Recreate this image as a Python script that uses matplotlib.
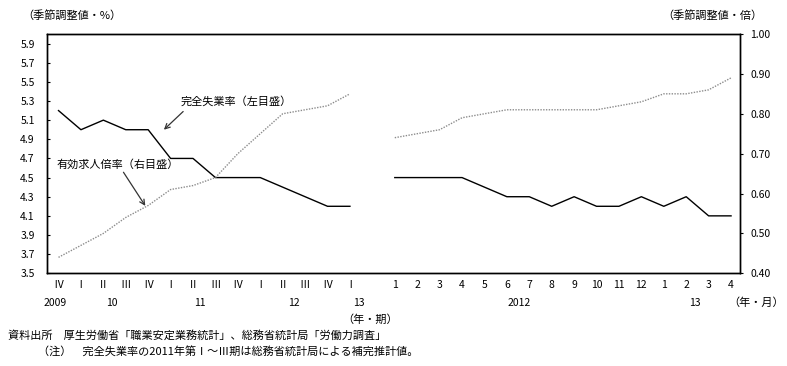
import numpy as np
import matplotlib
matplotlib.use("Agg")
import matplotlib.pyplot as plt
from matplotlib.transforms import blended_transform_factory

plt.rcParams['font.family'] = ['Noto Sans CJK JP', 'DejaVu Sans']

# 四半期（2009年Ⅳ期～2013年Ⅰ期）
quarter_labels = ['Ⅳ', 'Ⅰ', 'Ⅱ', 'Ⅲ', 'Ⅳ', 'Ⅰ', 'Ⅱ', 'Ⅲ', 'Ⅳ', 'Ⅰ', 'Ⅱ', 'Ⅲ', 'Ⅳ', 'Ⅰ']
unemp_q = [5.2, 5.0, 5.1, 5.0, 5.0, 4.7, 4.7, 4.5, 4.5, 4.5, 4.4, 4.3, 4.2, 4.2]
jobs_q = [0.44, 0.47, 0.50, 0.54, 0.57, 0.61, 0.62, 0.64, 0.70, 0.75, 0.80, 0.81, 0.82, 0.85]

# 月次（2012年1月～2013年4月）
month_labels = ['1', '2', '3', '4', '5', '6', '7', '8', '9', '10', '11', '12', '1', '2', '3', '4']
unemp_m = [4.5, 4.5, 4.5, 4.5, 4.4, 4.3, 4.3, 4.2, 4.3, 4.2, 4.2, 4.3, 4.2, 4.3, 4.1, 4.1]
jobs_m = [0.74, 0.75, 0.76, 0.79, 0.80, 0.81, 0.81, 0.81, 0.81, 0.81, 0.82, 0.83, 0.85, 0.85, 0.86, 0.89]

years_q = ['2009', '10', '11', '12', '13']
years_q_pos = [-0.15, 2.4, 6.3, 10.5, 13.4]
years_m = ['2012', '13']
years_m_pos = [20.55, 28.4]

# x位置：四半期 0..13, 空白 14, 月次 15..30
xq = np.arange(len(quarter_labels))
xm = np.arange(len(month_labels)) + len(quarter_labels) + 1
x = np.concatenate([xq, [np.nan], xm])
unemp = np.concatenate([unemp_q, [np.nan], unemp_m])
jobs = np.concatenate([jobs_q, [np.nan], jobs_m])

fig = plt.figure(figsize=(7.87, 3.66), dpi=100)
ax = fig.add_axes([0.0601, 0.2533, 0.8802, 0.6538])
ax2 = ax.twinx()

ax.plot(x, unemp, color='black', lw=1.0)
ax2.plot(x, jobs, color='#8c8c8c', lw=1.0, linestyle=(0, (1, 1)))

ax.set_xlim(-0.5, 30.4)
ax.set_ylim(3.5, 6.0)
ax.set_yticks(np.arange(3.5, 5.95, 0.2))
ax.set_yticklabels(['%.1f' % v for v in np.arange(3.5, 5.95, 0.2)])
ax2.set_ylim(0.4, 1.0)
ax2.set_yticks(np.arange(0.4, 1.001, 0.1))
ax2.set_yticklabels(['%.2f' % v for v in np.arange(0.4, 1.001, 0.1)])

ax.set_xticks(np.concatenate([xq, xm]))
ax.set_xticklabels(quarter_labels + month_labels)
ax.tick_params(axis='x', length=0, pad=5, labelsize=7.5)
ax.tick_params(axis='y', direction='in', length=2.5, pad=9, labelsize=7.5)
ax2.tick_params(axis='y', direction='out', length=2.5, pad=5, labelsize=7.5)
for a in (ax, ax2):
    for s in a.spines.values():
        s.set_linewidth(1.0)
        s.set_color('black')

trans = blended_transform_factory(ax.transData, ax.transAxes)
for lab, p in zip(years_q + years_m, years_q_pos + years_m_pos):
    ax.text(p, -0.125, lab, transform=trans, ha='center', va='center', fontsize=7.5)
ax.text(13.9, -0.195, '（年・期）', transform=trans, ha='center', va='center', fontsize=8)
fig.text(784 / 787, 1 - 303 / 366, '（年・月）', ha='right', va='center', fontsize=8)

# 注記と矢印
ax.text(5.43, 5.30, '完全失業率（左目盛）', ha='left', va='center', fontsize=8)
ax.annotate('', xy=(4.61, 4.98), xytext=(5.65, 5.21),
            arrowprops=dict(arrowstyle='->', color='#333333', lw=0.9, mutation_scale=9))
ax.text(-0.1, 4.635, '有効求人倍率（右目盛）', ha='left', va='center', fontsize=8)
ax.annotate('', xy=(3.94, 4.18), xytext=(2.83, 4.58),
            arrowprops=dict(arrowstyle='->', color='#333333', lw=0.9, mutation_scale=9))

fig.text(22 / 787, 1 - 15 / 366, '（季節調整値・%）', ha='left', va='center', fontsize=8)
fig.text(762 / 787, 1 - 15 / 366, '（季節調整値・倍）', ha='right', va='center', fontsize=8)

fig.text(8 / 787, 1 - 335 / 366, '資料出所　厚生労働省「職業安定業務統計」、総務省統計局「労働力調査」',
         ha='left', va='center', fontsize=8)
fig.text(38 / 787, 1 - 352 / 366, '（注）　完全失業率の2011年第Ⅰ～Ⅲ期は総務省統計局による補完推計値。',
         ha='left', va='center', fontsize=8)

fig.savefig('out.png', dpi=100)
